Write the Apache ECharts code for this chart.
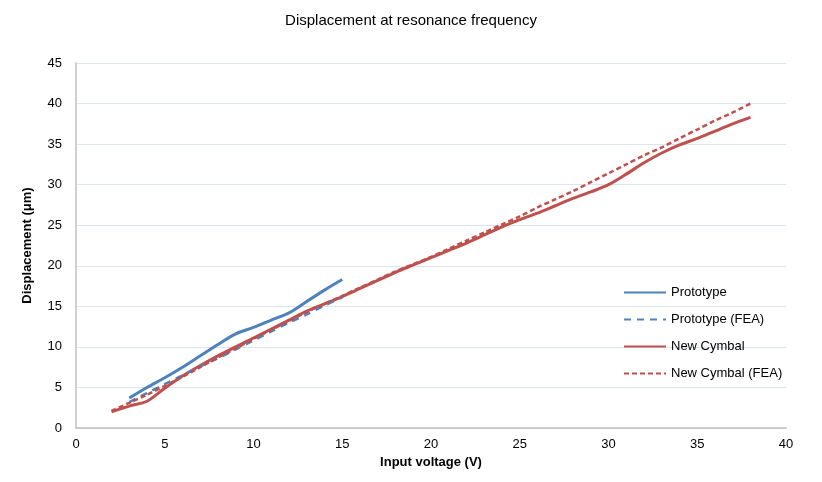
<!DOCTYPE html>
<html>
<head>
<meta charset="utf-8">
<script src="https://cdn.jsdelivr.net/npm/echarts@6/dist/echarts.min.js"></script>
<style>
  html, body { margin: 0; padding: 0; background: #fff; }
  #chart { width: 822px; height: 482px; }
</style>
</head>
<body>
<div id="chart"></div>
<script>
// input voltage (V)
const protoVolts = [3, 4, 5, 6, 7, 8, 9, 10, 11, 12, 13, 14, 15]
const cymbalVolts = [2, 3, 4, 5, 6, 7, 8, 9, 10, 11, 12, 13, 14, 15, 16, 17, 18, 19, 20,
  21, 22, 23, 24, 25, 26, 27, 28, 29, 30, 31, 32, 33, 34, 35, 36, 37, 38]

// displacement (µm)
const protoDisp = [3.7, 5.0, 6.2, 7.5, 8.9, 10.3, 11.6, 12.4, 13.3, 14.2, 15.6, 17.0, 18.3]
const protoFeaDisp = [3.2, 4.3, 5.4, 6.5, 7.6, 8.6, 9.7, 10.8, 11.9, 13.0, 14.0, 15.1, 16.1]
const cymbalDisp = [2.0, 2.7, 3.3, 4.9, 6.4, 7.7, 8.9, 10.0, 11.1, 12.2, 13.3, 14.4, 15.3, 16.2,
  17.2, 18.2, 19.2, 20.1, 21.0, 21.9, 22.8, 23.8, 24.8, 25.7, 26.5, 27.4, 28.3, 29.1, 30.0,
  31.3, 32.7, 33.9, 34.9, 35.7, 36.6, 37.5, 38.3]
const cymbalFeaDisp = [2.1, 3.1, 4.1, 5.2, 6.3, 7.5, 8.7, 9.8, 11.0, 12.1, 13.2, 14.3, 15.3, 16.3,
  17.3, 18.3, 19.3, 20.2, 21.1, 22.1, 23.1, 24.1, 25.1, 26.1, 27.2, 28.2, 29.2, 30.3, 31.4,
  32.5, 33.6, 34.6, 35.7, 36.8, 37.9, 38.9, 40.0]

const pairs = (xs, ys) => xs.map((x, i) => [x, ys[i]])

const BLUE = '#4F81BD'
const RED = '#C0504D'
const FONT = '"Liberation Sans", Arial, sans-serif'

const chart = echarts.init(document.getElementById('chart'))

const lineSeries = (name, data, color, dash) => ({
  name: name,
  type: 'line',
  data: data,
  symbol: 'none',
  smooth: 0.3,
  lineStyle: { color: color, width: dash ? 2.5 : 3, type: dash || 'solid' },
  itemStyle: { color: color },
  z: dash ? 3 : 2
})

chart.setOption({
  animation: false,
  textStyle: { fontFamily: FONT },
  title: {
    text: 'Displacement at resonance frequency',
    left: 'center',
    top: 8,
    textStyle: { fontSize: 15, fontWeight: 'normal', color: '#000', fontFamily: FONT }
  },
  grid: { left: 76, right: 36, top: 63, bottom: 54 },
  legend: {
    orient: 'vertical',
    left: 618,
    top: 281,
    itemWidth: 42,
    itemHeight: 10,
    itemGap: 14,
    itemStyle: { opacity: 0 },
    textStyle: { fontSize: 13, color: '#000', fontFamily: FONT },
    data: ['Prototype', 'Prototype (FEA)', 'New Cymbal', 'New Cymbal (FEA)']
  },
  xAxis: {
    type: 'value',
    min: 0,
    max: 40,
    interval: 5,
    name: 'Input voltage (V)',
    nameLocation: 'middle',
    nameGap: 28,
    nameTextStyle: { fontSize: 13, fontWeight: 'bold', color: '#000' },
    axisLine: { show: true, lineStyle: { color: '#BFBFBF', width: 1.5 } },
    axisTick: { show: false },
    axisLabel: { fontSize: 13, color: '#000', margin: 10 },
    splitLine: { show: false }
  },
  yAxis: {
    type: 'value',
    min: 0,
    max: 45,
    interval: 5,
    name: 'Displacement (μm)',
    nameLocation: 'middle',
    nameGap: 42,
    nameTextStyle: { fontSize: 13, fontWeight: 'bold', color: '#000' },
    axisLine: { show: true, lineStyle: { color: '#BFBFBF', width: 1.5 } },
    axisTick: { show: false },
    axisLabel: { fontSize: 13, color: '#000', margin: 14 },
    splitLine: { show: true, lineStyle: { color: '#DCE4F2', width: 1 } }
  },
  series: [
    lineSeries('Prototype', pairs(protoVolts, protoDisp), BLUE, null),
    lineSeries('Prototype (FEA)', pairs(protoVolts, protoFeaDisp), BLUE, [7, 6]),
    lineSeries('New Cymbal', pairs(cymbalVolts, cymbalDisp), RED, null),
    lineSeries('New Cymbal (FEA)', pairs(cymbalVolts, cymbalFeaDisp), RED, [5, 3])
  ]
})
</script>
</body>
</html>
